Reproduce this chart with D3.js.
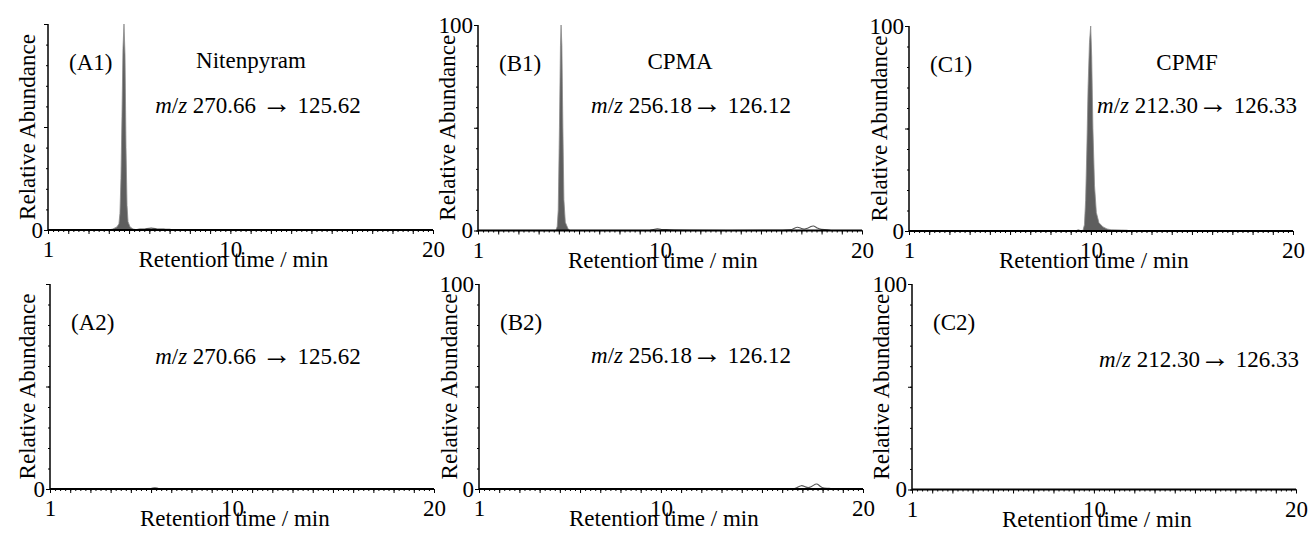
<!DOCTYPE html>
<html><head><meta charset="utf-8">
<script src="https://cdn.jsdelivr.net/npm/d3@7"></script>
</head><body style="margin:0;background:#fff">
<svg id="chart" width="1308" height="534" style="display:block" font-family="Liberation Serif"></svg>
<script>
// ---------- data ----------
const panelIds = ["A1", "B1", "C1", "A2", "B2", "C2"];
const compoundNames = ["Nitenpyram", "CPMA", "CPMF", "", "", ""];
const precursorMz = ["270.66", "256.18", "212.30", "270.66", "256.18", "212.30"];
const productMz = ["125.62", "126.12", "126.33", "125.62", "126.12", "126.33"];
const spaceBeforeArrow = [true, false, false, true, false, false];
const showTopLabel = [false, true, true, false, true, true];
const xTickValues = [1, 10, 20];
const xTickLabels = ["1", "10", "20"];
const yTickLabels = ["0", "100"];
const xAxisTitle = "Retention time / min";
const yAxisTitle = "Relative Abundance";

// filled chromatographic peaks [time (min), relative abundance (%)]
const peakA1 = [[4.0,0],[4.2,0.5],[4.4,1.5],[4.5,3],[4.55,8],[4.6,25],[4.65,55],[4.7,88],[4.75,100],[4.8,85],[4.85,40],[4.9,12],[4.95,4],[5.05,1.5],[5.2,0.5],[5.4,0]];
const peakB1 = [[4.85,0],[4.92,2],[4.97,10],[5.03,50],[5.08,90],[5.11,100],[5.15,90],[5.2,50],[5.25,15],[5.32,4],[5.45,1],[5.55,0]];
const peakC1 = [[9.6,0],[9.68,3],[9.74,15],[9.8,40],[9.86,70],[9.93,92],[9.99,100],[10.04,85],[10.1,50],[10.18,22],[10.27,9],[10.4,4],[10.6,2],[10.8,1],[11.0,0.6],[11.5,0.5],[11.8,0.4],[11.85,0]];
const peakA2 = [];
const peakB2 = [];
const peakC2 = [];

// unfilled baseline noise traces
const noiseA1 = [[5.3,0],[5.55,0.6],[5.75,0.3],[6.1,1.2],[6.4,0.3],[6.6,0.6],[6.8,0.3],[7.0,0.5],[7.2,0]];
const noiseB1 = [[9.5,0],[9.9,1.2],[10.1,0.3],[10.3,0.6],[10.5,0],[16.4,0],[16.55,0.5],[16.8,2.0],[17.0,0.8],[17.2,0.6],[17.45,1.8],[17.6,2.6],[17.8,1.0],[17.95,0.5],[18.3,0.4],[18.45,0]];
const noiseC1 = [[9.25,0],[9.38,0.7],[9.5,0]];
const noiseA2 = [[5.9,0],[6.2,0.8],[6.45,0]];
const noiseB2 = [[16.55,0],[16.7,0.4],[16.95,2.1],[17.15,0.9],[17.35,0.5],[17.55,1.8],[17.72,2.9],[17.9,1.0],[18.05,0.4],[18.35,0.4],[18.5,0]];
const noiseC2 = [];

const peaks = [peakA1, peakB1, peakC1, peakA2, peakB2, peakC2];
const noises = [noiseA1, noiseB1, noiseC1, noiseA2, noiseB2, noiseC2];

// ---------- layout ----------
const layout = [
  {left:48,  right:433,  top:24, bottom:230, nameX:251, mzX:258, mzY:113, titleX:35},
  {left:478, right:862,  top:25, bottom:230.5, nameX:680, mzX:691, mzY:113, titleX:455},
  {left:909, right:1293, top:26, bottom:231, nameX:1187, mzX:1197, mzY:113, titleX:887},
  {left:50,  right:434,  top:284, bottom:489, nameX:0, mzX:258, mzY:364, titleX:35},
  {left:479, right:863,  top:284, bottom:489, nameX:0, mzX:691, mzY:363, titleX:457},
  {left:912, right:1296, top:284, bottom:489.5, nameX:0, mzX:1199, mzY:367, titleX:889}
];
const FS = 23;
const FONT = "Liberation Serif";

const svg = d3.select("#chart");
function txt(sel) {
  return sel.attr("font-family", FONT).style("font-family", FONT)
    .attr("font-size", FS).style("font-size", FS + "px").style("fill", "#000");
}

panelIds.forEach((id, i) => {
  const L = layout[i];
  const x = d3.scaleLinear().domain([1, 20]).range([L.left, L.right]);
  const y = d3.scaleLinear().domain([0, 100]).range([L.bottom, L.top]);
  const g = svg.append("g").attr("font-family", FONT);

  if (peaks[i].length) {
    const area = d3.area().x(d => x(d[0])).y0(y(0)).y1(d => y(d[1]));
    g.append("path").datum(peaks[i]).attr("d", area)
      .attr("fill", "#5e5e5e").attr("stroke", "#8c8c8c").attr("stroke-width", 0.8);
  }
  if (noises[i].length) {
    const line = d3.line().x(d => x(d[0])).y(d => y(d[1])).curve(d3.curveBasis);
    g.append("path").datum(noises[i]).attr("d", line)
      .attr("fill", "none").attr("stroke", "#555").attr("stroke-width", 1.1);
  }

  // x axis ticks
  const xMinor = d3.axisBottom(x).tickValues(d3.range(1, 20.001, 0.25)).tickSize(2).tickFormat("");
  const xMajor = d3.axisBottom(x).tickValues(d3.range(1, 21, 1)).tickSize(4)
    .tickPadding(7).tickFormat(v => { const k = xTickValues.indexOf(v); return k >= 0 ? xTickLabels[k] : ""; });
  const gxm = g.append("g").attr("transform", `translate(0,${L.bottom})`).call(xMinor);
  const gxM = g.append("g").attr("transform", `translate(0,${L.bottom})`).call(xMajor);
  [gxm, gxM].forEach(a => { a.attr("font-family", FONT); a.select(".domain").remove(); a.selectAll("line").attr("stroke", "#000").attr("stroke-width", 1); });
  txt(gxM.selectAll("text"));

  // y axis ticks
  const yMinor = d3.axisLeft(y).tickValues(d3.range(0, 101, 10)).tickSize(2).tickFormat("");
  const yMajor = d3.axisLeft(y).tickValues([0, 50, 100]).tickSize(4).tickPadding(1)
    .tickFormat(v => v === 0 ? yTickLabels[0] : (v === 100 && showTopLabel[i] ? yTickLabels[1] : ""));
  const gym = g.append("g").attr("transform", `translate(${L.left},0)`).call(yMinor);
  const gyM = g.append("g").attr("transform", `translate(${L.left},0)`).call(yMajor);
  [gym, gyM].forEach(a => { a.attr("font-family", FONT); a.select(".domain").remove(); a.selectAll("line").attr("stroke", "#000").attr("stroke-width", 1); });
  txt(gyM.selectAll("text"));

  // axis lines
  g.append("line").attr("x1", L.left).attr("x2", L.left).attr("y1", L.top).attr("y2", L.bottom + 1)
    .attr("stroke", "#000").attr("stroke-width", 1.5);
  g.append("line").attr("x1", L.left).attr("x2", L.right).attr("y1", L.bottom).attr("y2", L.bottom)
    .attr("stroke", "#000").attr("stroke-width", 2);

  // axis titles
  txt(g.append("text").attr("x", x(10) + 3).attr("y", L.bottom + 37).attr("text-anchor", "middle")).text(xAxisTitle);
  txt(g.append("text").attr("transform", `translate(${L.titleX},${(L.top + L.bottom) / 2}) rotate(-90)`)
    .attr("text-anchor", "middle")).text(yAxisTitle);

  // panel label
  txt(g.append("text").attr("x", L.left + 21).attr("y", L.top + 46)).text(`(${id})`);
  if (compoundNames[i]) {
    txt(g.append("text").attr("x", L.nameX).attr("y", L.top + 44).attr("text-anchor", "middle")).text(compoundNames[i]);
  }
  // transition
  const t = txt(g.append("text").attr("x", L.mzX).attr("y", L.mzY).attr("text-anchor", "middle"));
  t.append("tspan").style("font-style", "italic").text("m");
  t.append("tspan").text("/");
  t.append("tspan").style("font-style", "italic").text("z");
  t.append("tspan").text(" " + precursorMz[i] + (spaceBeforeArrow[i] ? " " : ""));
  t.append("tspan").style("font-size", "30px").text("\u2192");
  t.append("tspan").text(" " + productMz[i]);
});
</script>
</body></html>
